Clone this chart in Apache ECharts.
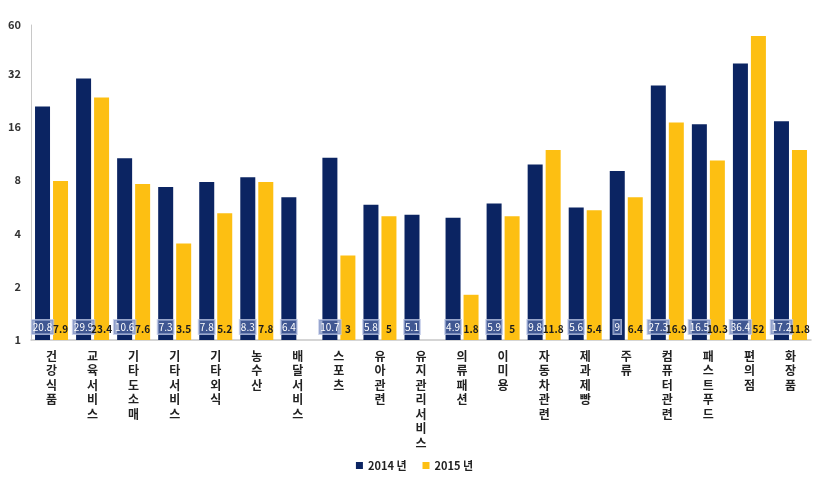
<!DOCTYPE html>
<html>
<head>
<meta charset="utf-8">
<script src="https://cdn.jsdelivr.net/npm/echarts@6/dist/echarts.min.js"></script>
<style>
html,body{margin:0;padding:0;background:#fff;}
#chart{width:829px;height:479px;}
</style>
</head>
<body>
<div id="chart"></div>
<script>
const categories = ['건강식품','교육서비스','기타도소매','기타서비스','기타외식','농수산','배달서비스','스포츠','유아관련','유지관리서비스','의류패션','이미용','자동차관련','제과제빵','주류','컴퓨터관련','패스트푸드','편의점','화장품'];
const values2014 = [20.8,29.9,10.6,7.3,7.8,8.3,6.4,10.7,5.8,5.1,4.9,5.9,9.8,5.6,9,27.3,16.5,36.4,17.2];
const values2015 = [7.9,23.4,7.6,3.5,5.2,7.8,null,3,5,null,1.8,5,11.8,5.4,6.4,16.9,10.3,52,11.8];
const seriesNames = ['2014 년','2015 년'];
const yMin = 1, yMax = 60;

const FONT = "'Noto Sans CJK KR', 'Noto Sans', sans-serif";
const chart = echarts.init(document.getElementById('chart'));
chart.setOption({
  animation: false,
  textStyle: {fontFamily: FONT},
  grid: {left: 31, right: 18, top: 25, bottom: 139},
  legend: {
    bottom: 3, left: 'center',
    data: seriesNames,
    icon: 'rect', itemWidth: 7, itemHeight: 7, itemGap: 16,
    textStyle: {fontFamily: FONT, fontSize: 11, fontWeight: 'bold', color: '#222'}
  },
  xAxis: {
    type: 'category',
    data: categories,
    axisLine: {lineStyle: {color: '#c8c8c8', width: 1.5}},
    axisTick: {show: false},
    axisLabel: {
      interval: 0,
      margin: 9,
      fontFamily: FONT, fontSize: 12, fontWeight: 'bold', color: '#222',
      lineHeight: 14.5,
      formatter: v => v.split('').join('\n')
    }
  },
  yAxis: {
    type: 'log', logBase: 2, min: yMin, max: yMax,
    axisLine: {show: true, lineStyle: {color: '#c8c8c8', width: 1}},
    axisTick: {show: false},
    splitLine: {show: false},
    minorTick: {show: false},
    axisLabel: {fontFamily: FONT, fontSize: 11, fontWeight: 'bold', color: '#333', margin: 10}
  },
  series: [
    {
      name: seriesNames[0], type: 'bar', data: values2014,
      barWidth: 15, barGap: '20%',
      itemStyle: {color: '#0b2462'},
      label: {
        show: true, position: 'insideBottom', distance: 6,
        formatter: '{c}', color: '#fff', fontSize: 10, fontFamily: FONT,
        backgroundColor: 'rgba(100,122,178,0.6)', borderColor: 'rgba(190,200,230,0.8)', borderWidth: 1,
        padding: [2, 1]
      }
    },
    {
      name: seriesNames[1], type: 'bar', data: values2015,
      barWidth: 15,
      itemStyle: {color: '#fdbf12'},
      label: {
        show: true, position: 'insideBottom', distance: 4,
        formatter: '{c}', color: '#1c1c1c', fontSize: 10, fontWeight: 'bold', fontFamily: FONT,
        padding: [2, 1]
      }
    }
  ]
});
</script>
</body>
</html>
